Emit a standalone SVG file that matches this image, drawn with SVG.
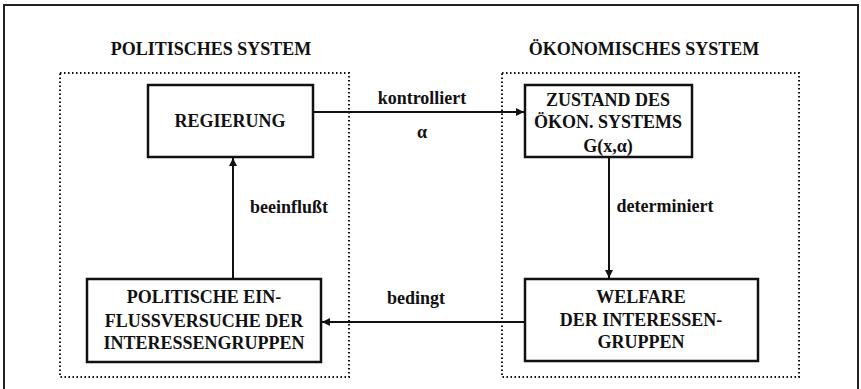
<svg xmlns="http://www.w3.org/2000/svg" width="861" height="389" viewBox="0 0 861 389">
<defs>
<style>
.box{fill:#fff;stroke:#111;stroke-width:2.5}
.grp{fill:none;stroke:#111;stroke-width:2;stroke-dasharray:1.5 2.5}
.con{fill:none;stroke:#111;stroke-width:2}
</style>
<marker id="ah" viewBox="0 0 10 10" refX="10" refY="5" markerWidth="8" markerHeight="8" markerUnits="userSpaceOnUse" orient="auto">
<path d="M0,0 L10,5 L0,10 z" fill="#111"/>
</marker>
</defs>
<rect width="861" height="389" fill="#fff"/>
<g id="frame">
<path d="M4,395 L4,5 L858,5 L858,395" fill="none" stroke="#222" stroke-width="2"/>
</g>
<g font-family="Liberation Serif, serif" font-size="18" font-weight="bold" fill="#111" text-anchor="middle">
<g id="politisches-system">
<rect class="grp" x="60" y="73" width="289" height="304"/>
<text x="211" y="55">POLITISCHES  SYSTEM</text>
</g>
<g id="oekonomisches-system">
<rect class="grp" x="502" y="73" width="297" height="304"/>
<text x="644" y="55">ÖKONOMISCHES  SYSTEM</text>
</g>
<g id="regierung">
<rect class="box" x="148" y="85" width="165" height="72"/>
<text x="230" y="127">REGIERUNG</text>
</g>
<g id="zustand">
<rect class="box" x="525" y="85" width="167" height="72"/>
<text x="608" y="106">ZUSTAND  DES</text>
<text x="608" y="128">ÖKON.  SYSTEMS</text>
<text x="608" y="152">G(x,α)</text>
</g>
<g id="politische-einflussversuche">
<rect class="box" x="87" y="279" width="234" height="83"/>
<text x="204" y="303">POLITISCHE  EIN-</text>
<text x="204" y="327">FLUSSVERSUCHE  DER</text>
<text x="204" y="349">INTERESSENGRUPPEN</text>
</g>
<g id="welfare">
<rect class="box" x="525" y="279" width="233" height="82"/>
<text x="641" y="303">WELFARE</text>
<text x="641" y="326">DER  INTERESSEN-</text>
<text x="641" y="348">GRUPPEN</text>
</g>
<g id="connectors">
<line class="con" x1="313" y1="112" x2="524" y2="112" marker-end="url(#ah)"/>
<text x="422" y="104">kontrolliert</text>
<text x="422" y="138">α</text>
<line class="con" x1="609" y1="157" x2="609" y2="278" marker-end="url(#ah)"/>
<text x="665" y="212">determiniert</text>
<line class="con" x1="525" y1="322" x2="322" y2="322" marker-end="url(#ah)"/>
<text x="416" y="304">bedingt</text>
<line class="con" x1="233" y1="279" x2="233" y2="158" marker-end="url(#ah)"/>
<text x="289" y="213">beeinflußt</text>
</g>
</g>
</svg>
